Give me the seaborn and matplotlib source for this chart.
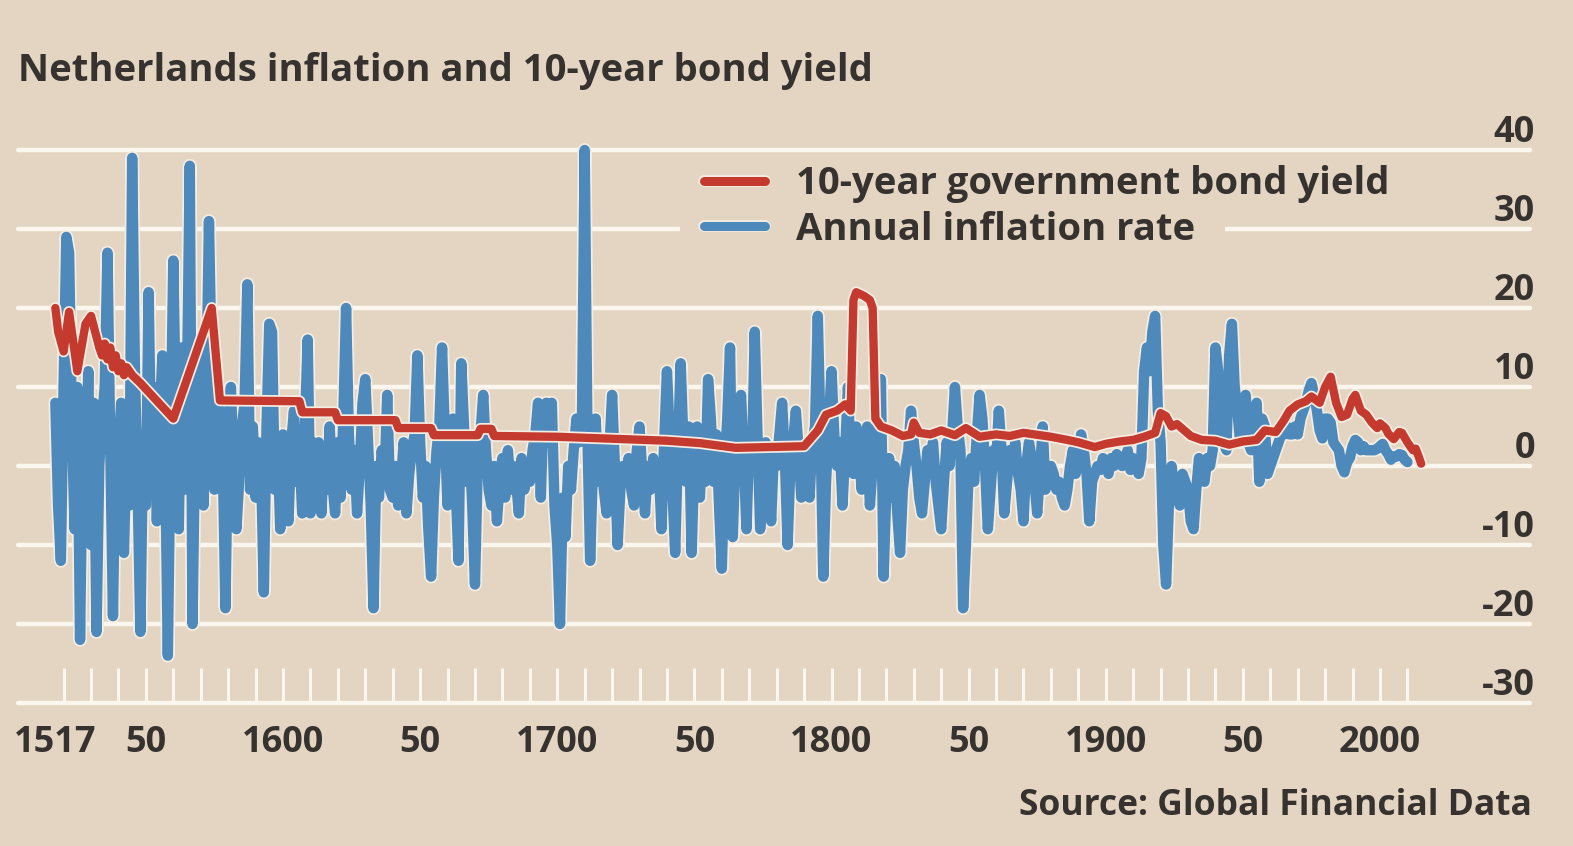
import matplotlib
matplotlib.use("Agg")
import matplotlib.pyplot as plt
import matplotlib.patheffects as pe
import matplotlib.transforms as mtransforms
from matplotlib.lines import Line2D
from matplotlib.patches import Rectangle
import pandas as pd
import seaborn as sns

# ---------------------------------------------------------------------------
# Data: annual inflation rate (%), 1517-2010
# ---------------------------------------------------------------------------
infl_years = list(range(1517, 2011))
infl_values = [
    8, -5, -12,                                   # 1517-1519
    10, 29, 27, 6, -8, 10, -22, 5, -3, 12,        # 1520s
    -10, 8, -21, 0, 6, 10, 27, 3, -19, 5,         # 1530s
    2, 8, -11, 3, -5, 39, 12, -3, -21, 4,         # 1540s
    -5, 22, 0, 10, -7, 5, 14, 2, -24, 3,          # 1550s
    26, 5, -8, 15, -3, 10, 38, -20, 5, 0,         # 1560s
    14, -5, 8, 31, 12, -3, 10, 6, 2, -18,         # 1570s
    5, 10, 0, -8, -2, 5, 8, 23, -3, 5,            # 1580s
    -4, 3, 0, -16, 5, 18, 17, -3, 3, -8,          # 1590s
    4, -5, -7, 3, 7, -2, 2, -6, 5, 16,            # 1600s
    -6, 3, -4, 3, -6, 2, -3, 5, -2, -6,           # 1610s
    3, -4, 6, 20, 4, -3, 2, -6, 0, 8,             # 1620s
    11, 3, -5, -18, 0, -4, 2, -2, 9, -3,          # 1630s
    -4, 0, -5, -2, 3, -6, -1, 2, 4, 14,           # 1640s
    3, -4, 0, -8, -14, -4, 2, 5, 15, 4,           # 1650s
    -5, 0, 6, -3, -12, 13, 5, -2, 3, -5,          # 1660s
    -15, 0, 4, 9, 2, -3, -5, 0, -7, -2,           # 1670s
    1, -4, 2, -3, 0, -2, -6, 1, -3, 0,            # 1680s
    -2, 2, 4, 8, -4, 7, 8, 3, 8, -5,              # 1690s
    -10, -20, -4, -9, 0, -3, 2, 6, 3, 5,          # 1700s
    40, 4, -12, 0, 6, -2, 3, -3, -6, 2,           # 1710s
    9, 0, -10, -3, 0, -2, 1, -3, -5, 2,           # 1720s
    5, -1, -6, 0, -3, 1, -2, 0, -8, 3,            # 1730s
    12, 4, -3, -11, 2, 13, 3, -2, 5, -11,         # 1740s
    1, 5, -4, 3, -2, 11, 6, -2, 4, -5,            # 1750s
    -13, 0, 6, 15, -9, 2, 5, 9, 1, -8,            # 1760s
    3, 0, 17, 4, -8, 0, 3, -2, -7, 2,             # 1770s
    0, 4, 8, 1, -10, 0, 3, 7, 2, -4,              # 1780s
    0, 2, -4, 3, 5, 19, 4, -14, -2, 5,            # 1790s
    12, 4, 0, 3, -5, 2, 10, 0, -1, 5,             # 1800s
    2, -3, 2, 5, -5, 0, 3, 6, 11, -14,            # 1810s
    -3, 1, -4, 0, -6, -11, -3, 0, 2, 7,           # 1820s
    3, 0, -4, -6, -2, 2, 0, 3, -2, -5,            # 1830s
    -8, -2, 3, 0, 4, 10, 5, 2, -18, -10,          # 1840s
    -1, 1, -2, 4, 9, 6, 0, -8, -3, 2,             # 1850s
    0, 7, 2, -6, -2, 2, 0, 3, -1, -3,             # 1860s
    -7, 0, 3, 1, -2, -6, -1, 5, -3, -2,           # 1870s
    0, -1, -3, -2, -4, -5, -3, 0, 2, -1,          # 1880s
    1, 4, 2, -1, -7, -2, -1, 0, -0.5, 1,          # 1890s
    0.5, -1, 1, 0, 1.5, 1, 0, 1, 2, -0.5,         # 1900s
    1, 0, -1, 1, 12, 15, 12, 17, 19, 7,           # 1910s
    3, -10, -15, -5, 0, -3, -4, -5, -1, -2,       # 1920s
    -3, -7, -8, -3, 1, -1, -2, 1, 0, 2,           # 1930s
    15, 12, 5, 3, 2, 14, 18, 10, 7, 3,            # 1940s
    8, 9, 3, 2, 6, 8, -2, 6, 5, -1,               # 1950s
    0, 1, 2, 3, 4, 4, 5, 4, 4, 5,                 # 1960s
    4, 6, 7, 8, 9.5, 10.5, 9, 7, 4.5, 3.5,        # 1970s
    6, 6, 5.5, 3, 2.5, 2, 0, -0.8, 0.5, 1,        # 1980s
    2.5, 3.3, 3, 2, 2.5, 2, 2, 2, 2, 2.2,         # 1990s
    2.5, 2.8, 2, 1.5, 0.8, 1.2, 1.2, 1.5, 1.4, 0.8,  # 2000s
    0.5,                                          # 2010
]

# 10-year government bond yield (%)
bond_years = [
    1517, 1518, 1520, 1522, 1525, 1528, 1530, 1533, 1534, 1535,
    1536, 1537, 1538, 1539, 1540, 1541, 1542, 1543, 1545, 1548,
    1560, 1574, 1577, 1606, 1607, 1619, 1620, 1641, 1642, 1654,
    1655, 1671, 1672, 1676, 1677, 1700, 1740, 1752, 1765, 1790,
    1795, 1798, 1802, 1805, 1807, 1808, 1809, 1812, 1814, 1815,
    1816, 1818, 1822, 1826, 1829, 1830, 1832, 1836, 1840, 1845,
    1849, 1854, 1860, 1865, 1870, 1876, 1880, 1886, 1890, 1896,
    1900, 1905, 1910, 1914, 1918, 1920, 1922, 1924, 1926, 1931,
    1935, 1940, 1945, 1950, 1955, 1958, 1962, 1965, 1967, 1970,
    1973, 1975, 1978, 1980, 1982, 1984, 1986, 1988, 1990, 1991,
    1993, 1995, 1997, 1999, 2000, 2002, 2003, 2005, 2007, 2008,
    2010, 2012, 2013, 2014, 2015,
]
bond_yield = [
    20, 17, 14.5, 19.5, 12, 18, 19, 15, 14, 15.5,
    13.5, 15, 12.5, 14, 12, 13, 11.5, 12.5, 11.5, 10.5,
    6, 20, 8.3, 8.2, 6.8, 6.8, 5.8, 5.8, 4.8, 4.8,
    3.9, 3.9, 4.7, 4.7, 3.8, 3.7, 3.2, 2.9, 2.3, 2.5,
    4.5, 6.5, 7, 7.8, 7, 21, 22, 21.5, 21, 20,
    6, 5, 4.5, 3.8, 4, 5.5, 4.2, 4, 4.5, 3.9,
    4.8, 3.7, 4, 3.8, 4.2, 3.9, 3.7, 3.3, 3, 2.4,
    2.8, 3.1, 3.3, 3.7, 4.2, 6.7, 6.3, 5, 5.3, 3.8,
    3.3, 3.2, 2.7, 3.1, 3.3, 4.5, 4.3, 5.8, 7, 7.8,
    8.2, 8.8, 8, 10, 11.3, 8, 6.2, 6.5, 8.5, 9,
    7, 6.5, 5.5, 4.8, 5.4, 4.8, 4.1, 3.4, 4.3, 4.2,
    3, 2, 2.2, 1.3, 0.3,
]

# Axis labelling
y_ticks = [-30, -20, -10, 0, 10, 20, 30, 40]
x_label_years = [1517, 1550, 1600, 1650, 1700, 1750, 1800, 1850, 1900, 1950, 2000]
x_label_text = ["1517", "50", "1600", "50", "1700", "50", "1800", "50", "1900", "50", "2000"]
x_tick_years = list(range(1520, 2011, 10))

title = "Netherlands inflation and 10-year bond yield"
source = "Source: Global Financial Data"
bond_label = "10-year government bond yield"
infl_label = "Annual inflation rate"

# ---------------------------------------------------------------------------
# Style
# ---------------------------------------------------------------------------
BG = "#e3d5c1"
GRID = "#fbf6ee"
BLUE = "#4d89bb"
RED = "#c43a2f"
INK = "#36322f"
HALO = "#f5ede2"

sns.set_theme(style="white")
plt.rcParams["font.family"] = ["Open Sans", "DejaVu Sans"]

W, H = 1573, 846
fig = plt.figure(figsize=(W / 100, H / 100), dpi=100, facecolor=BG)


def fx(px):
    return px / W


def fy(py):
    return 1 - py / H


# plot frame: 18..1530 px wide, baseline (-30) at 703 px, 7.9 px per unit
y_lo, y_hi = -30, 44
top_px = 703 - (y_hi - y_lo) * 7.9
ax = fig.add_axes([fx(18), fy(703), (1530 - 18) / W, (703 - top_px) / H])
ax.set_facecolor(BG)
for s in ax.spines.values():
    s.set_visible(False)

px_per_year = (1380 - 283) / 400
ax.set_xlim(1600 - (283 - 18) / px_per_year, 1600 + (1530 - 283) / px_per_year)
ax.set_ylim(y_lo, y_hi)

# horizontal gridlines
for v in y_ticks:
    ax.axhline(v, color=GRID, lw=3.2, zorder=1, clip_on=False)
ax.set_yticks([])

# decade tick marks rising from the baseline, labels underneath
ax.xaxis.remove_overlapping_locs = False
ax.set_xticks(x_tick_years)
ax.set_xticklabels([])
ax.tick_params(axis="x", which="major", direction="in", length=25, width=2.2,
               color=GRID, bottom=True, labelbottom=False)
ax.set_xticks(x_label_years, labels=x_label_text, minor=True)
ax.tick_params(axis="x", which="minor", length=0, pad=16, labelsize=26,
               labelcolor=INK, bottom=True, labelbottom=True)
for lab in ax.get_xticklabels(minor=True):
    lab.set_fontweight("bold")

# y labels sit above their gridlines at the right edge
trans = mtransforms.blended_transform_factory(ax.transAxes, ax.transData)
for v in y_ticks:
    ax.annotate(str(v), xy=(1.0, v), xycoords=trans, xytext=(3.5, 6),
                textcoords="offset points", ha="right", va="baseline",
                fontsize=26, color=INK, fontweight="bold",
                annotation_clip=False)

# patch behind the second legend row hides the 30 gridline there
ax.add_patch(Rectangle((fx(680), fy(250)), (1225 - 680) / W, 36 / H,
                       transform=fig.transFigure, facecolor=BG,
                       edgecolor="none", zorder=1.5))

# series
halo_blue = [pe.Stroke(linewidth=10, foreground=HALO), pe.Normal()]
halo_red = [pe.Stroke(linewidth=8.5, foreground=HALO), pe.Normal()]

infl_df = pd.DataFrame({"year": infl_years, "value": infl_values})
bond_df = pd.DataFrame({"year": bond_years, "value": bond_yield})

sns.lineplot(data=infl_df, x="year", y="value", ax=ax, color=BLUE, lw=7.5,
             zorder=3, legend=False, path_effects=halo_blue,
             solid_joinstyle="round", solid_capstyle="round")
sns.lineplot(data=bond_df, x="year", y="value", ax=ax, color=RED, lw=6,
             zorder=4, legend=False, path_effects=halo_red,
             solid_joinstyle="round", solid_capstyle="round")
ax.set_xlabel("")
ax.set_ylabel("")

# legend
handles = [
    Line2D([0], [0], color=RED, lw=6.5, solid_capstyle="round",
           path_effects=[pe.Stroke(linewidth=8.5, foreground=HALO), pe.Normal()]),
    Line2D([0], [0], color=BLUE, lw=6.5, solid_capstyle="round",
           path_effects=[pe.Stroke(linewidth=8.5, foreground=HALO), pe.Normal()]),
]
leg = ax.legend(handles, [bond_label, infl_label], loc="center left",
                bbox_to_anchor=(fx(704), fy(207)), bbox_transform=fig.transFigure,
                frameon=False, fontsize=27.5, handlelength=1.6, handletextpad=0.8,
                labelspacing=0.2, borderpad=0, borderaxespad=0)
for t in leg.get_texts():
    t.set_color(INK)
    t.set_fontweight("bold")

# title and source
fig.text(fx(18), fy(81), title, fontsize=27.5, fontweight="bold", color=INK,
         ha="left", va="baseline")
fig.text(fx(1532), fy(815), source, fontsize=25.5, fontweight="bold",
         color=INK, ha="right", va="baseline")

fig.savefig("out.png", dpi=100, facecolor=BG)
